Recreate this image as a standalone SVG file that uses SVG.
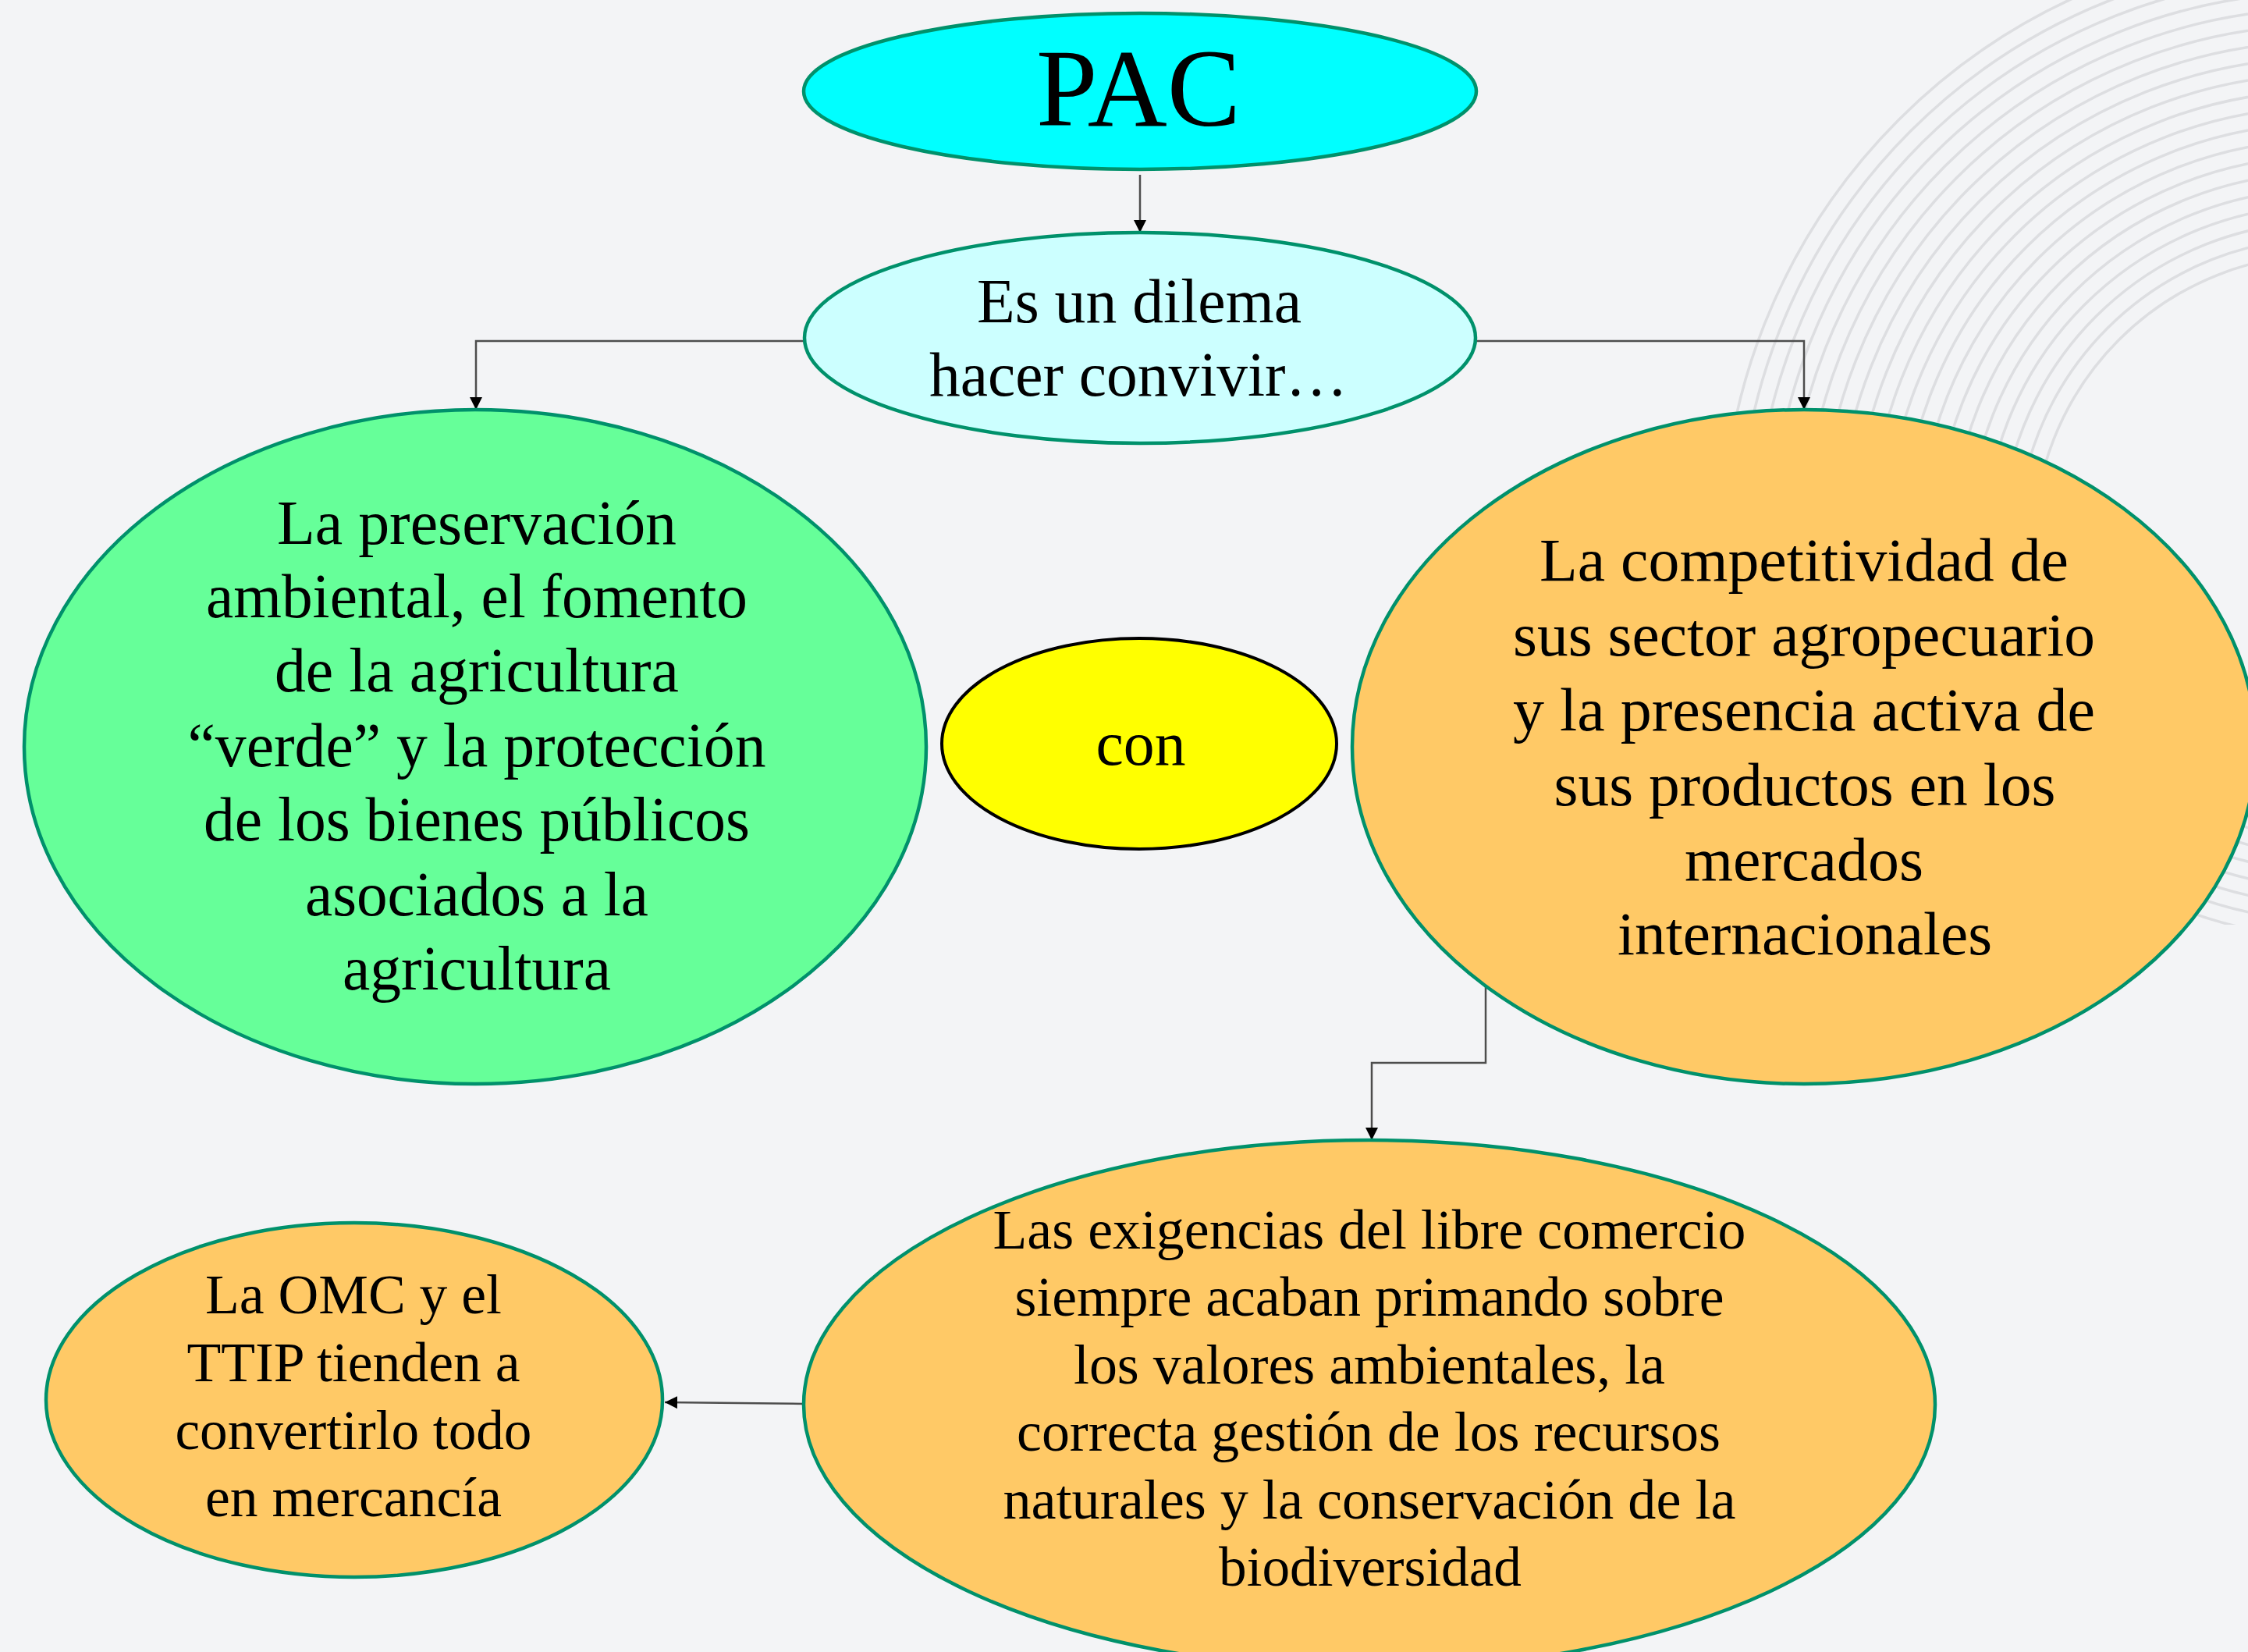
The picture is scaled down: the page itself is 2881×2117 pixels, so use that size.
<svg xmlns="http://www.w3.org/2000/svg" width="2881" height="2117" viewBox="0 0 2881 2117">
<style>
.bg{fill:#F3F4F6}
.arc{fill:none;stroke:#DDDEE1;stroke-width:3.5}
.node{stroke:#00916B;stroke-width:4.5}
.t{font-family:"Liberation Serif","Times New Roman",serif;fill:#000;text-anchor:middle}
.conn{fill:none;stroke:#4D4D4D;stroke-width:2.5}
</style>
<defs>
<marker id="arr" viewBox="0 0 10 10" refX="10" refY="5" markerUnits="userSpaceOnUse" markerWidth="16" markerHeight="16" orient="auto">
<path d="M0,0 L10,5 L0,10 z" fill="#000"/>
</marker>
<clipPath id="arcclip"><rect x="0" y="0" width="2881" height="1185"/></clipPath>
</defs>
<rect class="bg" x="0" y="0" width="2881" height="2117"/>
<g id="decor" clip-path="url(#arcclip)">
<circle class="arc" cx="2980" cy="700" r="374"/>
<circle class="arc" cx="2980" cy="700" r="395"/>
<circle class="arc" cx="2980" cy="700" r="416"/>
<circle class="arc" cx="2980" cy="700" r="437"/>
<circle class="arc" cx="2980" cy="700" r="458"/>
<circle class="arc" cx="2980" cy="700" r="479"/>
<circle class="arc" cx="2980" cy="700" r="500"/>
<circle class="arc" cx="2980" cy="700" r="521"/>
<circle class="arc" cx="2980" cy="700" r="542"/>
<circle class="arc" cx="2980" cy="700" r="563"/>
<circle class="arc" cx="2980" cy="700" r="584"/>
<circle class="arc" cx="2980" cy="700" r="605"/>
<circle class="arc" cx="2980" cy="700" r="626"/>
<circle class="arc" cx="2980" cy="700" r="647"/>
<circle class="arc" cx="2980" cy="700" r="668"/>
<circle class="arc" cx="2980" cy="700" r="689"/>
<circle class="arc" cx="2980" cy="700" r="710"/>
<circle class="arc" cx="2980" cy="700" r="731"/>
<circle class="arc" cx="2980" cy="700" r="752"/>
<circle class="arc" cx="2980" cy="700" r="773"/>
</g>
<g id="connectors">
<path class="conn" d="M1461,224 L1461,298" marker-end="url(#arr)"/>
<path class="conn" d="M1031,437 L610,437 L610,525" marker-end="url(#arr)"/>
<path class="conn" d="M1891,437 L2312,437 L2312,525" marker-end="url(#arr)"/>
<path class="conn" d="M1904,1263 L1904,1362 L1758,1362 L1758,1461" marker-end="url(#arr)"/>
<path class="conn" d="M1030,1799 L852,1797" marker-end="url(#arr)"/>
</g>
<g id="node-pac">
<ellipse class="node" cx="1461" cy="117" rx="431" ry="100" fill="#00FFFF"/>
<text class="t" x="1459" y="161" font-size="142" textLength="262" lengthAdjust="spacingAndGlyphs">PAC</text>
</g>
<g id="node-dilema">
<ellipse class="node" cx="1461" cy="433" rx="430" ry="135" fill="#CCFFFF"/>
<text class="t" x="1460" y="413" font-size="80" textLength="416" lengthAdjust="spacingAndGlyphs">Es un dilema</text>
<text class="t" x="1459" y="507" font-size="80" textLength="536" lengthAdjust="spacingAndGlyphs">hacer convivir…</text>
</g>
<g id="node-preservacion">
<ellipse class="node" cx="609" cy="957" rx="578" ry="432" fill="#66FF99"/>
<text class="t" x="611" y="697" font-size="80" textLength="512" lengthAdjust="spacingAndGlyphs">La preservación</text>
<text class="t" x="611" y="791" font-size="80" textLength="694" lengthAdjust="spacingAndGlyphs">ambiental, el fomento</text>
<text class="t" x="611" y="886" font-size="80" textLength="518" lengthAdjust="spacingAndGlyphs">de la agricultura</text>
<text class="t" x="611" y="982" font-size="80" textLength="741" lengthAdjust="spacingAndGlyphs">“verde” y la protección</text>
<text class="t" x="611" y="1077" font-size="80" textLength="700" lengthAdjust="spacingAndGlyphs">de los bienes públicos</text>
<text class="t" x="611" y="1173" font-size="80" textLength="440" lengthAdjust="spacingAndGlyphs">asociados a la</text>
<text class="t" x="611" y="1268" font-size="80" textLength="344" lengthAdjust="spacingAndGlyphs">agricultura</text>
</g>
<g id="node-con">
<ellipse cx="1460" cy="953" rx="253" ry="135" fill="#FFFF00" stroke="#000" stroke-width="4"/>
<text class="t" x="1462" y="980" font-size="80" textLength="115" lengthAdjust="spacingAndGlyphs">con</text>
</g>
<g id="node-competitividad">
<ellipse class="node" cx="2312" cy="957" rx="579" ry="432" fill="#FFC966"/>
<text class="t" x="2312" y="744" font-size="78" textLength="678" lengthAdjust="spacingAndGlyphs">La competitividad de</text>
<text class="t" x="2312" y="840" font-size="78" textLength="746" lengthAdjust="spacingAndGlyphs">sus sector agropecuario</text>
<text class="t" x="2312" y="936" font-size="78" textLength="746" lengthAdjust="spacingAndGlyphs">y la presencia activa de</text>
<text class="t" x="2313" y="1032" font-size="78" textLength="643" lengthAdjust="spacingAndGlyphs">sus productos en los</text>
<text class="t" x="2312" y="1128" font-size="78" textLength="306" lengthAdjust="spacingAndGlyphs">mercados</text>
<text class="t" x="2313" y="1223" font-size="78" textLength="480" lengthAdjust="spacingAndGlyphs">internacionales</text>
</g>
<g id="node-exigencias">
<ellipse class="node" cx="1755" cy="1800" rx="725" ry="339" fill="#FFC966"/>
<text class="t" x="1755" y="1600" font-size="72" textLength="965" lengthAdjust="spacingAndGlyphs">Las exigencias del libre comercio</text>
<text class="t" x="1755" y="1686" font-size="72" textLength="909" lengthAdjust="spacingAndGlyphs">siempre acaban primando sobre</text>
<text class="t" x="1755" y="1773" font-size="72" textLength="758" lengthAdjust="spacingAndGlyphs">los valores ambientales, la</text>
<text class="t" x="1754" y="1859" font-size="72" textLength="902" lengthAdjust="spacingAndGlyphs">correcta gestión de los recursos</text>
<text class="t" x="1755" y="1946" font-size="72" textLength="939" lengthAdjust="spacingAndGlyphs">naturales y la conservación de la</text>
<text class="t" x="1756" y="2032" font-size="72" textLength="388" lengthAdjust="spacingAndGlyphs">biodiversidad</text>
</g>
<g id="node-omc">
<ellipse class="node" cx="454" cy="1794" rx="395" ry="227" fill="#FFC966"/>
<text class="t" x="453" y="1683" font-size="72" textLength="380" lengthAdjust="spacingAndGlyphs">La OMC y el</text>
<text class="t" x="453" y="1770" font-size="72" textLength="427" lengthAdjust="spacingAndGlyphs">TTIP tienden a</text>
<text class="t" x="453" y="1857" font-size="72" textLength="457" lengthAdjust="spacingAndGlyphs">convertirlo todo</text>
<text class="t" x="453" y="1943" font-size="72" textLength="380" lengthAdjust="spacingAndGlyphs">en mercancía</text>
</g>
</svg>
